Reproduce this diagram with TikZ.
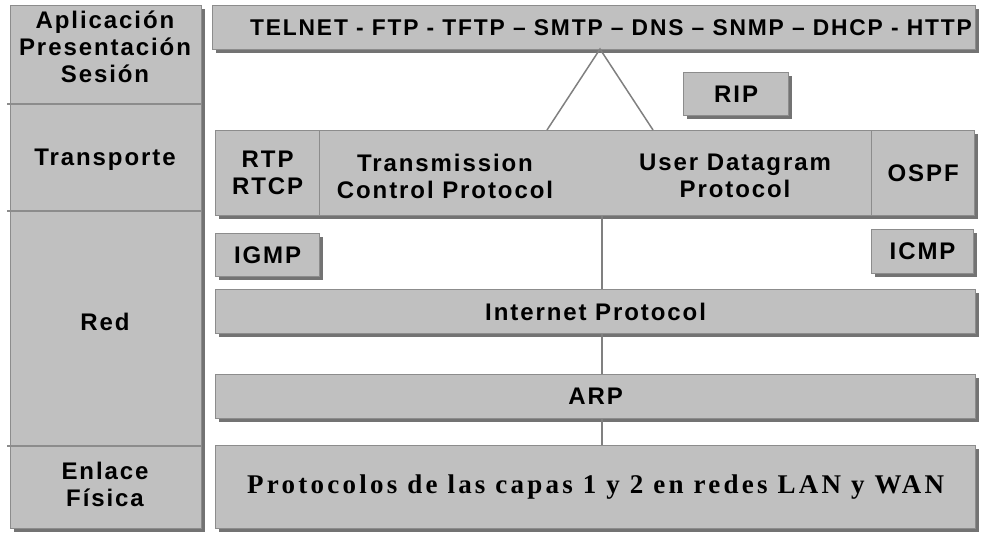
\documentclass[tikz,border=0pt]{standalone}
\usepackage{fontspec}
\setmainfont{Liberation Sans}[LetterSpace=8]
\newfontfamily\serifb{Liberation Serif}[LetterSpace=12]
\usetikzlibrary{shadows}
\definecolor{boxfill}{RGB}{192,192,192}
\definecolor{boxedge}{RGB}{140,140,140}
\definecolor{boxshadow}{RGB}{115,115,115}
\definecolor{linkgray}{RGB}{128,128,128}
\tikzset{
  box/.style={draw=boxedge, line width=1.2pt, fill=boxfill,
    drop shadow={shadow xshift=3pt, shadow yshift=-3pt, fill=boxshadow, opacity=1},
    inner sep=0pt, align=center, anchor=north west,
    font=\fontsize{24}{27}\selectfont\bfseries},
  lbl/.style={align=center, inner sep=0pt, font=\fontsize{24}{27}\selectfont\bfseries},
  sep/.style={draw=boxedge, line width=1.2pt},
  link/.style={draw=linkgray, line width=1.5pt}
}
\begin{document}
\begin{tikzpicture}[x=1pt,y=-1pt]
\useasboundingbox (0,0) rectangle (984,533);
% left OSI column
\node[box, minimum width=191, minimum height=523] (osi) at (10,5) {};
\draw[sep] (7,104) -- (osi.east |- 0,104);
\draw[sep] (7,211) -- (osi.east |- 0,211);
\draw[sep] (7,446) -- (osi.east |- 0,446);
\node[lbl] (app) at (105,47) {Aplicación\\Presentación\\Sesión};
\node[lbl] (trans) at (105,160) {Transporte};
\node[lbl] (red) at (105,322) {Red};
\node[lbl] (enl) at (105,484) {Enlace\\Física};
% application protocols
\node[box, minimum width=763, minimum height=44] (apps) at (212,5) {};
\node[lbl, font=\fontsize{22.8}{27}\selectfont\bfseries] (appstxt) at (611,28) {TELNET - FTP - TFTP – SMTP – DNS – SNMP – DHCP - HTTP};
\node[box, minimum width=105, minimum height=43] (rip) at (683,72) {RIP};
% transport row
\node[box, minimum width=104, minimum height=85] (rtp) at (215,130) {RTP\\RTCP};
\node[box, minimum width=552, minimum height=85] (tcpudp) at (319,130) {};
\node[box, minimum width=103, minimum height=85] (ospf) at (871,130) {OSPF};
\node[lbl] (tcp) at (445,176) {Transmission\\Control Protocol};
\node[lbl] (udp) at (735,176) {User Datagram\\Protocol};
% network
\node[box, minimum width=104, minimum height=43] (igmp) at (215,233) {IGMP};
\node[box, minimum width=102, minimum height=44] (icmp) at (871,229) {ICMP};
\node[box, minimum width=760, minimum height=44] (ip) at (215,289) {Internet Protocol};
\node[box, minimum width=760, minimum height=44] (arp) at (215,374) {ARP};
\node[box, minimum width=760, minimum height=83, font=\fontsize{27}{30}\selectfont\serifb\bfseries] (phy) at (215,445) {Protocolos de las capas 1 y 2 en redes LAN y WAN};
% connectors
\coordinate (apex) at (600,49);
\coordinate (tl) at (547,130);
\coordinate (tr) at (653,130);
\coordinate (vx) at (602,0);
\draw[link] (tl) -- (apex) -- (tr);
\draw[link] (tcpudp.south -| vx) -- (ip.north -| vx);
\draw[link] (ip.south -| vx) -- (arp.north -| vx);
\draw[link] (arp.south -| vx) -- (phy.north -| vx);
\end{tikzpicture}
\end{document}
